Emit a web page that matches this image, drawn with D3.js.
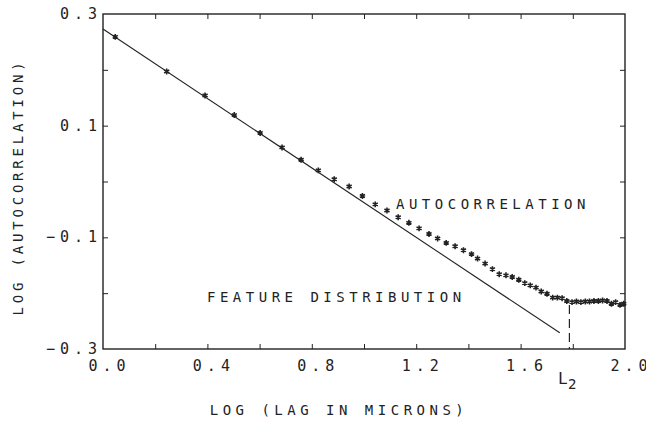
<!DOCTYPE html>
<html>
<head>
<meta charset="utf-8">
<script src="https://cdn.jsdelivr.net/npm/d3@7"></script>
<style>
    body { margin: 0; background: #fff; }
    svg text { font-family: "DejaVu Sans Mono", "Liberation Mono", monospace; fill: #222; }
</style>
</head>
<body>
<div id="chart"></div>
<script>
// log(lag) of each measured point
const lagLog = [
    0.047, 0.244, 0.391, 0.503, 0.602, 0.686, 0.759, 0.825, 0.886, 0.943,
    0.994, 1.043, 1.088, 1.131, 1.172, 1.211, 1.249, 1.282, 1.315, 1.349,
    1.381, 1.412, 1.435, 1.464, 1.492, 1.518, 1.544, 1.568, 1.593, 1.616,
    1.637, 1.659, 1.679, 1.701, 1.723, 1.741, 1.759, 1.777,
    1.797, 1.814, 1.831, 1.848, 1.864, 1.881, 1.898, 1.914, 1.931, 1.948,
    1.964, 1.981, 1.995
];
// log(autocorrelation)
const autoLog = [
    0.259, 0.197, 0.154, 0.119, 0.087, 0.061, 0.039, 0.020, 0.004, -0.009,
    -0.026, -0.041, -0.052, -0.064, -0.074, -0.084, -0.094, -0.102, -0.110, -0.116,
    -0.123, -0.130, -0.138, -0.147, -0.157, -0.166, -0.168, -0.171, -0.176, -0.182,
    -0.186, -0.190, -0.197, -0.201, -0.208, -0.208, -0.209, -0.214,
    -0.216, -0.215, -0.216, -0.215, -0.215, -0.214, -0.214, -0.213, -0.214, -0.219,
    -0.216, -0.221, -0.219
];
// feature distribution fit line
const fitX = [0.0, 1.75];
const fitY = [0.273, -0.271];
// L2 cutoff
const l2X = 1.787;
const l2Y = [-0.221, -0.3];

const xMajor = [0.0, 0.4, 0.8, 1.2, 1.6, 2.0];
const xMinor = [0.2, 0.6, 1.0, 1.4, 1.8];
const yMajor = [0.3, 0.1, -0.1, -0.3];
const yMinor = [0.2, 0.0, -0.2];

window.addEventListener('DOMContentLoaded', () => {

    const margin = { top: 14, right: 21, bottom: 72, left: 103 };
    const fullW = 646, fullH = 421;
    const width = fullW - margin.left - margin.right;
    const height = fullH - margin.top - margin.bottom;

    const svg = d3.select('#chart').append('svg')
        .attr('width', fullW)
        .attr('height', fullH);

    const g = svg.append('g')
        .attr('transform', `translate(${margin.left},${margin.top})`);

    const x = d3.scaleLinear().domain([0, 2]).range([0, width]);
    const y = d3.scaleLinear().domain([-0.3, 0.3]).range([height, 0]);

    const ink = '#222';
    const tickLen = 5;

    // frame
    g.append('rect')
        .attr('width', width)
        .attr('height', height)
        .attr('fill', 'none')
        .attr('stroke', ink)
        .attr('stroke-width', 1.4);

    // inward ticks on all four sides
    const allX = xMajor.concat(xMinor).filter(v => v > 0 && v < 2);
    const allY = yMajor.concat(yMinor).filter(v => v > -0.3 && v < 0.3);

    const drawAxis = (axis, tx, ty) => {
        const a = g.append('g').attr('transform', `translate(${tx},${ty})`).call(axis);
        a.select('.domain').remove();
        a.selectAll('line').attr('stroke', ink).attr('stroke-width', 1);
        a.selectAll('text').remove();
    };
    drawAxis(d3.axisBottom(x).tickValues(allX).tickSize(-tickLen), 0, height);
    drawAxis(d3.axisTop(x).tickValues(allX).tickSize(-tickLen), 0, 0);
    drawAxis(d3.axisLeft(y).tickValues(allY).tickSize(-tickLen), 0, 0);
    drawAxis(d3.axisRight(y).tickValues(allY).tickSize(-tickLen), width, 0);

    // tick labels (plotter style, wide pitch)
    const fmt = v => d3.format('.1f')(v).replace('-', '–');
    const spacing = 5;

    g.selectAll('.xlab')
        .data(xMajor)
        .enter()
        .append('text')
        .attr('class', 'xlab')
        .attr('x', d => x(d) + spacing / 2 + 4)
        .attr('y', height + 22)
        .attr('text-anchor', 'middle')
        .attr('font-size', 15)
        .attr('letter-spacing', spacing)
        .text(fmt);

    g.selectAll('.ylab')
        .data(yMajor)
        .enter()
        .append('text')
        .attr('class', 'ylab')
        .attr('x', -6 + spacing)
        .attr('y', d => y(d) + 5)
        .attr('text-anchor', 'end')
        .attr('font-size', 15)
        .attr('letter-spacing', spacing)
        .text(fmt);

    // feature distribution line
    const line = d3.line().x(d => x(d[0])).y(d => y(d[1]));
    g.append('path')
        .datum(d3.zip(fitX, fitY))
        .attr('d', line)
        .attr('fill', 'none')
        .attr('stroke', ink)
        .attr('stroke-width', 1.1);

    // L2 dashed marker
    g.append('line')
        .attr('x1', x(l2X)).attr('x2', x(l2X))
        .attr('y1', y(l2Y[0])).attr('y2', y(l2Y[1]))
        .attr('stroke', ink)
        .attr('stroke-width', 1.2)
        .attr('stroke-dasharray', '9,5');

    // autocorrelation points
    const sym = d3.symbol().type(d3.symbolAsterisk).size(24);
    g.selectAll('.pt')
        .data(d3.zip(lagLog, autoLog))
        .enter()
        .append('path')
        .attr('class', 'pt')
        .attr('transform', d => `translate(${x(d[0])},${y(d[1])})`)
        .attr('d', sym)
        .attr('fill', 'none')
        .attr('stroke', ink)
        .attr('stroke-width', 1.6);

    // annotations
    const label = (txt, px, py, size, ls) => svg.append('text')
        .attr('x', px).attr('y', py)
        .attr('font-size', size)
        .attr('letter-spacing', ls)
        .text(txt);

    label('AUTOCORRELATION', 396, 209, 14, 4.5);
    label('FEATURE DISTRIBUTION', 207, 302, 14, 4.5);
    label('L', 558, 384, 16, 0);
    label('2', 568, 389, 14, 0);

    // axis titles
    svg.append('text')
        .attr('x', 339)
        .attr('y', 415)
        .attr('text-anchor', 'middle')
        .attr('font-size', 14)
        .attr('letter-spacing', 4.5)
        .text('LOG (LAG IN MICRONS)');

    svg.append('text')
        .attr('transform', 'translate(23,187) rotate(-90)')
        .attr('text-anchor', 'middle')
        .attr('font-size', 14)
        .attr('letter-spacing', 3.8)
        .text('LOG (AUTOCORRELATION)');
});
</script>
</body>
</html>
